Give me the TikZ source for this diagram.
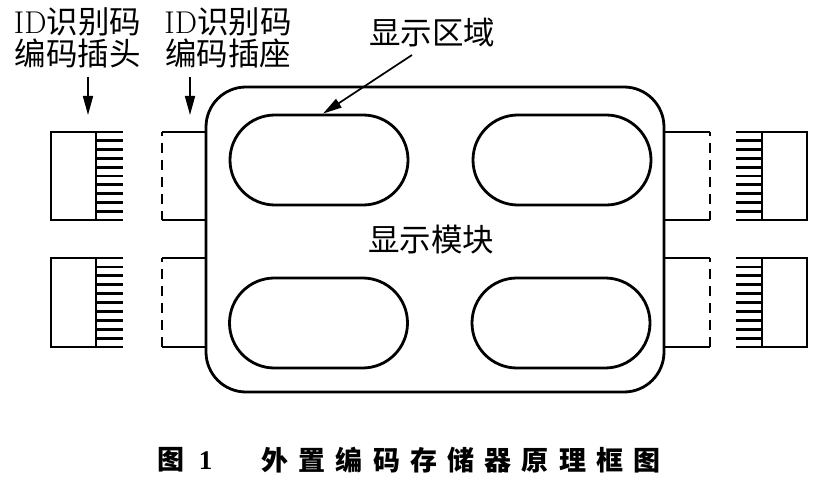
\documentclass[tikz,border=0pt]{standalone}
\usepackage{fontspec}
\newfontfamily\cjk{Noto Sans CJK SC}
\newfontfamily\tms{Liberation Serif}
\usetikzlibrary{arrows.meta}
\newcommand\capchar[1]{\makebox[37.2pt]{#1}}
\begin{document}
\begin{tikzpicture}[x=1pt,y=-1pt,line width=2.8pt,
  lbl/.style={inner sep=0pt,align=center,font=\fontsize{31.5}{32}\selectfont\cjk},
  oval/.style={draw,rounded corners=44.9pt,minimum width=178pt,minimum height=90pt,inner sep=0pt},
  arr/.style={line width=1.7pt,-{Triangle[length=19pt,width=10pt]}},
  sock/.style={dash pattern=on 10pt off 7pt,dash phase=6pt}]
\useasboundingbox (0,0) rectangle (819,481);
% main module
\node[draw,rounded corners=40pt,minimum width=458pt,minimum height=305pt,inner sep=0pt] (mod) at (435,239.5) {};
\node[lbl] (modlbl) at (431,240) {显示模块};
% display areas
\node[oval] (tl) at (319,160) {};
\node[oval] (tr) at (562,160) {};
\node[oval] (bl) at (318.5,323) {};
\node[oval] (br) at (561,323) {};
% sockets and plugs
\foreach \a/\b in {132/220,258/347}{
  \draw (206,\a) -- (162,\a);
  \draw[sock] (162,\a) -- (162,\b);
  \draw (162,\b) -- (206,\b);
  \draw (664,\a) -- (710,\a);
  \draw[sock] (710,\a) -- (710,\b);
  \draw (710,\b) -- (664,\b);
  \draw (51,\a) rectangle (96,\b);
  \draw (762,\a) rectangle (807,\b);
  \foreach \k in {0,...,10}{
    \draw (96,{\a+(\b-\a)*\k/10}) -- (123,{\a+(\b-\a)*\k/10});
    \draw (736,{\a+(\b-\a)*\k/10}) -- (762,{\a+(\b-\a)*\k/10});
  }
}
% labels
\node[lbl] (plug) at (77.5,38) {{\rmfamily ID}识别码\\编码插头};
\node[lbl] (sockl) at (228,38) {{\rmfamily ID}识别码\\编码插座};
\node[lbl] (area) at (432,33) {显示区域};
\coordinate (a1s) at (88,77);
\coordinate (a1e) at (88,115);
\coordinate (a2s) at (190,77);
\coordinate (a2e) at (190,115);
\coordinate (a3s) at (412,55);
\draw[arr] (a1s) -- (a1e);
\draw[arr] (a2s) -- (a2e);
\draw[arr] (a3s) -- ([xshift=4pt]tl.north);
% caption
\node[inner sep=0pt,font=\fontsize{27}{27}\selectfont\cjk\bfseries] (capnum) at (185,460)
 {图\hspace{14pt}{\tms\bfseries 1}};
\node[inner sep=0pt,font=\fontsize{27}{27}\selectfont\cjk\bfseries] (cap) at (461,460)
 {\capchar{外}\capchar{置}\capchar{编}\capchar{码}\capchar{存}\capchar{储}\capchar{器}\capchar{原}\capchar{理}\capchar{框}\capchar{图}};
\end{tikzpicture}
\end{document}
